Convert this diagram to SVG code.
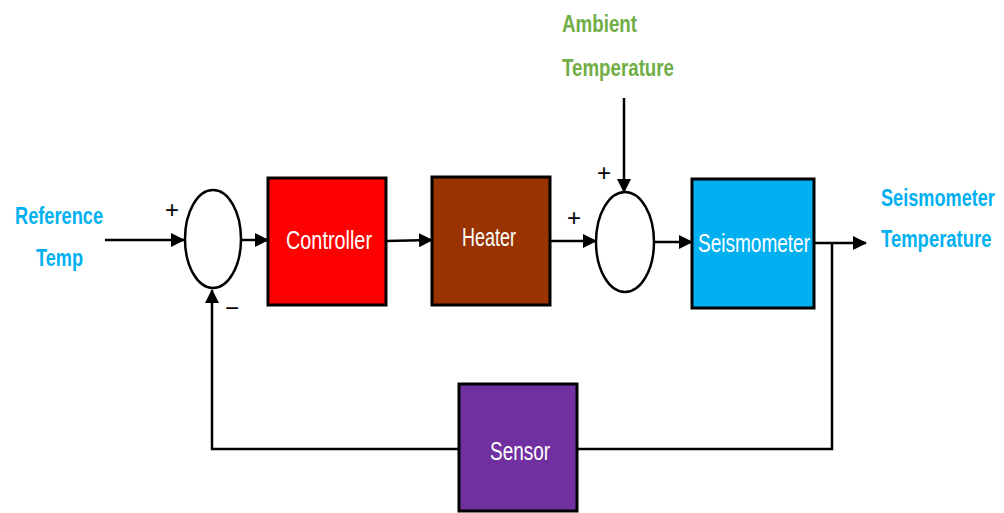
<svg xmlns="http://www.w3.org/2000/svg" width="1004" height="513" viewBox="0 0 1004 513">
<style>
.lbl{font-family:"Liberation Sans",Arial,sans-serif;font-weight:bold;font-size:24px}
.blue{fill:#00B0F0}
.green{fill:#70AD47}
.box{stroke:#000;stroke-width:3}
.btxt{font-family:"Liberation Sans",Arial,sans-serif;font-size:25px;fill:#fff;text-anchor:middle}
.sign{font-family:"Liberation Sans",Arial,sans-serif;font-size:24px;fill:#000;text-anchor:middle}
.sum{fill:#fff;stroke:#000;stroke-width:2.5}
.wire{fill:none;stroke:#000;stroke-width:2.5}
</style>
<defs>
<marker id="ah" markerUnits="userSpaceOnUse" markerWidth="14" markerHeight="14" refX="13" refY="7" orient="auto">
<path d="M0,0 L14,7 L0,14 Z" fill="#000"/>
</marker>
</defs>
<rect width="1004" height="513" fill="#fff"/>
<g id="labels">
<text class="lbl blue" x="15" y="224" textLength="88" lengthAdjust="spacingAndGlyphs">Reference</text>
<text class="lbl blue" x="36" y="266" textLength="47" lengthAdjust="spacingAndGlyphs">Temp</text>
<text class="lbl green" x="562" y="32" textLength="75" lengthAdjust="spacingAndGlyphs">Ambient</text>
<text class="lbl green" x="562" y="76" textLength="112" lengthAdjust="spacingAndGlyphs">Temperature</text>
<text class="lbl blue" transform="translate(881,206) scale(0.756,1)" x="0" y="0">Seismometer</text>
<text class="lbl blue" transform="translate(881,247) scale(0.77,1)" x="0" y="0">Temperature</text>
</g>
<g id="connectors">
<line class="wire" x1="105" y1="240" x2="184" y2="240" marker-end="url(#ah)"/>
<line class="wire" x1="241" y1="240" x2="268" y2="240" marker-end="url(#ah)"/>
<line class="wire" x1="386" y1="241" x2="432" y2="240" marker-end="url(#ah)"/>
<line class="wire" x1="550" y1="241" x2="596" y2="241" marker-end="url(#ah)"/>
<line class="wire" x1="624" y1="98" x2="624" y2="192" stroke-width="2" marker-end="url(#ah)"/>
<line class="wire" x1="654" y1="242" x2="692" y2="242" marker-end="url(#ah)"/>
<line class="wire" x1="814" y1="243" x2="866" y2="243" marker-end="url(#ah)"/>
<polyline class="wire" points="832,243 832,449 212,449 212,290" marker-end="url(#ah)"/>
</g>
<g id="sum1">
<ellipse class="sum" cx="213" cy="239" rx="28" ry="49"/>
<text class="sign" x="172" y="218">+</text>
<text class="sign" x="232" y="316">−</text>
</g>
<g id="controller">
<rect class="box" x="268" y="178" width="118" height="127" fill="#FF0000"/>
<text class="btxt" x="329" y="249" textLength="86" lengthAdjust="spacingAndGlyphs">Controller</text>
</g>
<g id="heater">
<rect class="box" x="432" y="177" width="118" height="128" fill="#993300"/>
<text class="btxt" x="489" y="246" textLength="54" lengthAdjust="spacingAndGlyphs">Heater</text>
</g>
<g id="sum2">
<ellipse class="sum" cx="625" cy="242" rx="29" ry="50"/>
<text class="sign" x="574" y="226">+</text>
<text class="sign" x="604" y="181">+</text>
</g>
<g id="seismometer">
<rect class="box" x="692" y="179" width="122" height="129" fill="#00B0F0"/>
<text class="btxt" x="754" y="252" textLength="112" lengthAdjust="spacingAndGlyphs">Seismometer</text>
</g>
<g id="sensor">
<rect class="box" x="459" y="384" width="118" height="127" fill="#7030A0"/>
<text class="btxt" x="520" y="460" textLength="60" lengthAdjust="spacingAndGlyphs">Sensor</text>
</g>
</svg>
